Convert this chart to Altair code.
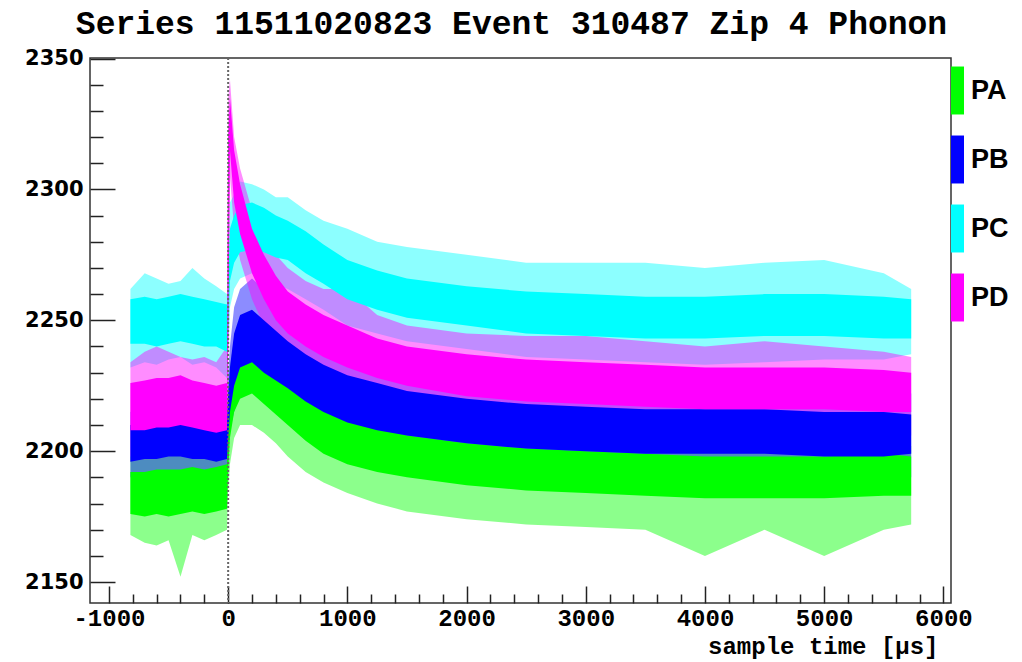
import altair as alt
import pandas as pd

# ---------------- data ----------------
SERIES = ["PA", "PB", "PC", "PD"]
COLORS = ["#00ff00", "#0000ff", "#00ffff", "#ff00ff"]

T = [-820, -700, -600, -500, -400, -300, -200, -100, -10, 0, 15, 50, 100,
     200, 300, 400, 500, 650, 800, 1000, 1250, 1500, 2000, 2500, 3000,
     3500, 4000, 4500, 5000, 5500, 5730]

# dense core of each noisy trace (lo / hi) and extent of the spikes (min / max)
PA_LO = [2176, 2175, 2176, 2175, 2176, 2177, 2176, 2177, 2178, 2192, 2205, 2215, 2220,
         2222, 2218, 2214, 2210, 2204, 2199, 2195, 2192, 2190, 2187, 2185, 2184,
         2183, 2182, 2182, 2182, 2183, 2183]
PA_HI = [2192, 2192, 2193, 2193, 2193, 2194, 2193, 2194, 2195, 2210, 2225, 2235, 2240,
         2240, 2236, 2232, 2228, 2222, 2217, 2212, 2209, 2206, 2203, 2201, 2200,
         2199, 2198, 2198, 2198, 2199, 2198]
PA_MIN = [2168, 2165, 2164, 2166, 2152, 2168, 2166, 2168, 2170, 2185, 2195, 2205, 2210,
          2210, 2207, 2203, 2198, 2192, 2188, 2184, 2180, 2177, 2174, 2172, 2171,
          2170, 2160, 2170, 2160, 2170, 2172]
PA_MAX = [2198, 2200, 2202, 2200, 2200, 2200, 2200, 2202, 2200, 2218, 2232, 2243, 2246,
          2247, 2244, 2240, 2236, 2230, 2225, 2220, 2215, 2212, 2210, 2208, 2207,
          2207, 2205, 2205, 2205, 2205, 2202]

PB_LO = [2196, 2197, 2197, 2198, 2198, 2197, 2197, 2196, 2197, 2205, 2215, 2225, 2232,
         2234, 2230, 2227, 2224, 2219, 2215, 2211, 2208, 2206, 2203, 2201, 2200,
         2199, 2199, 2199, 2198, 2198, 2199]
PB_HI = [2210, 2211, 2212, 2212, 2213, 2211, 2211, 2210, 2211, 2222, 2232, 2245, 2252,
         2254, 2250, 2246, 2242, 2237, 2233, 2229, 2226, 2223, 2220, 2218, 2217,
         2216, 2216, 2216, 2215, 2215, 2214]
PB_MIN = [2190, 2190, 2188, 2190, 2191, 2189, 2188, 2188, 2190, 2198, 2208, 2215, 2222,
          2224, 2220, 2217, 2214, 2209, 2205, 2201, 2198, 2196, 2193, 2191, 2190,
          2189, 2189, 2189, 2188, 2188, 2190]
PB_MAX = [2215, 2218, 2222, 2220, 2222, 2218, 2220, 2218, 2216, 2230, 2240, 2255, 2262,
          2266, 2262, 2255, 2252, 2246, 2243, 2240, 2236, 2233, 2230, 2228, 2227,
          2226, 2226, 2226, 2225, 2225, 2222]

PC_LO = [2241, 2241, 2240, 2241, 2242, 2241, 2240, 2240, 2238, 2245, 2265, 2272, 2276,
         2277, 2276, 2274, 2273, 2268, 2264, 2258, 2254, 2251, 2248, 2245, 2244,
         2243, 2243, 2244, 2244, 2243, 2243]
PC_HI = [2258, 2259, 2258, 2259, 2260, 2259, 2258, 2257, 2256, 2262, 2285, 2290, 2294,
         2295, 2293, 2290, 2288, 2284, 2279, 2273, 2269, 2266, 2263, 2261, 2260,
         2259, 2259, 2260, 2260, 2259, 2258]
PC_MIN = [2232, 2234, 2233, 2235, 2236, 2233, 2234, 2232, 2228, 2236, 2255, 2262, 2266,
          2268, 2266, 2264, 2262, 2258, 2254, 2248, 2245, 2242, 2239, 2236, 2235,
          2234, 2233, 2234, 2235, 2235, 2237]
PC_MAX = [2262, 2268, 2266, 2264, 2265, 2270, 2266, 2263, 2260, 2270, 2295, 2298, 2303,
          2302, 2300, 2297, 2297, 2292, 2288, 2285, 2280, 2278, 2275, 2272, 2272,
          2272, 2270, 2272, 2273, 2268, 2262]

PD_LO = [2208, 2208, 2209, 2209, 2210, 2209, 2208, 2207, 2208, 2240, 2315, 2295, 2283,
         2268, 2258, 2250, 2245, 2240, 2236, 2232, 2228, 2225, 2221, 2219, 2218,
         2217, 2216, 2216, 2216, 2215, 2215]
PD_HI = [2226, 2227, 2228, 2228, 2229, 2227, 2226, 2225, 2226, 2320, 2335, 2315, 2302,
         2285, 2275, 2267, 2261, 2256, 2252, 2248, 2243, 2240, 2237, 2235, 2234,
         2233, 2232, 2232, 2232, 2231, 2230]
PD_MIN = [2198, 2200, 2200, 2201, 2202, 2200, 2199, 2198, 2198, 2230, 2305, 2285, 2273,
          2258, 2248, 2240, 2236, 2231, 2227, 2222, 2218, 2215, 2211, 2209, 2208,
          2207, 2206, 2206, 2206, 2205, 2206]
PD_MAX = [2234, 2238, 2240, 2238, 2236, 2235, 2236, 2234, 2240, 2335, 2342, 2320, 2308,
          2292, 2283, 2275, 2270, 2265, 2262, 2262, 2252, 2248, 2245, 2244, 2244,
          2242, 2240, 2242, 2240, 2238, 2236]

TRIGGER_T = [0]

X_MAJOR = [-1000, 0, 1000, 2000, 3000, 4000, 5000, 6000]
X_MINOR = [v for v in range(-1000, 6001, 200) if v % 1000 != 0]
Y_MAJOR = [2150, 2200, 2250, 2300, 2350]
Y_MINOR = [v for v in range(2150, 2351, 10) if v % 50 != 0]

TITLE = "Series 11511020823 Event 310487 Zip 4 Phonon"
X_TITLE = "sample time [\u00b5s]"

# ---------------- table ----------------
rows = []
for name, lo, hi, mn, mx in [
    ("PA", PA_LO, PA_HI, PA_MIN, PA_MAX),
    ("PB", PB_LO, PB_HI, PB_MIN, PB_MAX),
    ("PC", PC_LO, PC_HI, PC_MIN, PC_MAX),
    ("PD", PD_LO, PD_HI, PD_MIN, PD_MAX),
]:
    for t, a, b, c, d in zip(T, lo, hi, mn, mx):
        rows.append({"series": name, "t": t, "lo": a, "hi": b, "mn": c, "mx": d})
df = pd.DataFrame(rows)
trig = pd.DataFrame({"t": TRIGGER_T})

xscale = alt.Scale(domain=[-1159, 6064], nice=False, zero=False)
yscale = alt.Scale(domain=[2142, 2350.2], nice=False, zero=False)

MONO = "Liberation Mono"

x_major = alt.Axis(values=X_MAJOR, orient="bottom", offset=-17, tickSize=17,
                   tickWidth=1.5, tickColor="#222", domain=False, grid=False,
                   labelFont=MONO, labelFontSize=24, labelFontWeight="bold",
                   labelColor="black", labelPadding=3, labelExpr="toString(datum.value)",
                   labelFlush=False, labelOverlap=False,
                   title=X_TITLE, titleFont=MONO, titleFontSize=24,
                   titleFontWeight="bold", titleColor="black", titleAlign="right",
                   titleAnchor="end", titleX=848, titleY=67, titleBaseline="alphabetic")
x_minor = alt.Axis(values=X_MINOR, orient="bottom", offset=-9, tickSize=9,
                   tickWidth=1.5, tickColor="#222", domain=False, grid=False,
                   labels=False, title=None)
y_major = alt.Axis(values=Y_MAJOR, orient="left", offset=-25, tickSize=25,
                   tickWidth=1.5, tickColor="#222", domain=False, grid=False,
                   format="d",
                   labelFont="DejaVu Sans", labelFontSize=21, labelFontWeight="bold",
                   labelColor="black", labelPadding=7, labelFlush=False,
                   labelOverlap=False, title=None)
y_minor = alt.Axis(values=Y_MINOR, orient="left", offset=-13, tickSize=13,
                   tickWidth=1.5, tickColor="#222", domain=False, grid=False,
                   labels=False, title=None)

legend = alt.Legend(title=None, orient="none", legendX=854, legendY=19,
                    symbolType="M-1,-3.69H1V3.69H-1Z", symbolSize=169,
                    symbolStrokeWidth=0, symbolOpacity=1, rowPadding=20, padding=0,
                    labelFont="Liberation Sans", labelFontSize=27,
                    labelFontWeight="bold", labelColor="black", labelOffset=0)

color_scale = alt.Scale(domain=SERIES, range=COLORS)

outer = alt.Chart(df).mark_area(opacity=0.45, interpolate="linear", clip=True).encode(
    x=alt.X("t:Q", scale=xscale, axis=x_major),
    y=alt.Y("mn:Q", scale=yscale, axis=y_major),
    y2="mx:Q",
    color=alt.Color("series:N", scale=color_scale, legend=legend),
)

core = alt.Chart(df).mark_area(opacity=1, interpolate="linear", clip=True).encode(
    x=alt.X("t:Q", scale=xscale, axis=None),
    y=alt.Y("lo:Q", scale=yscale, axis=None),
    y2="hi:Q",
    color=alt.Color("series:N", scale=color_scale, legend=legend),
)

minor = alt.Chart(df).mark_point(opacity=0).encode(
    x=alt.X("t:Q", scale=xscale, axis=x_minor),
    y=alt.Y("lo:Q", scale=yscale, axis=y_minor),
)

trigger = alt.Chart(trig).mark_rule(color="#666", strokeDash=[2, 2], strokeWidth=2).encode(
    x=alt.X("t:Q", scale=xscale, axis=None),
)

chart = alt.layer(outer, core, minor, trigger).resolve_axis(
    x="independent", y="independent"
).properties(
    width=861,
    height=545,
    autosize=alt.AutoSizeParams(type="none"),
    padding={"left": 90, "top": 58, "right": 71, "bottom": 59},
    title=alt.TitleParams(text=TITLE, font=MONO, fontSize=33, fontWeight="bold",
                          color="black", anchor="middle", dx=-9, dy=33, offset=14,
                          baseline="alphabetic"),
    background="white",
).configure_view(stroke="#333", strokeWidth=1.5)

chart.save("out.html", embed_options={"renderer": "svg", "actions": False})
